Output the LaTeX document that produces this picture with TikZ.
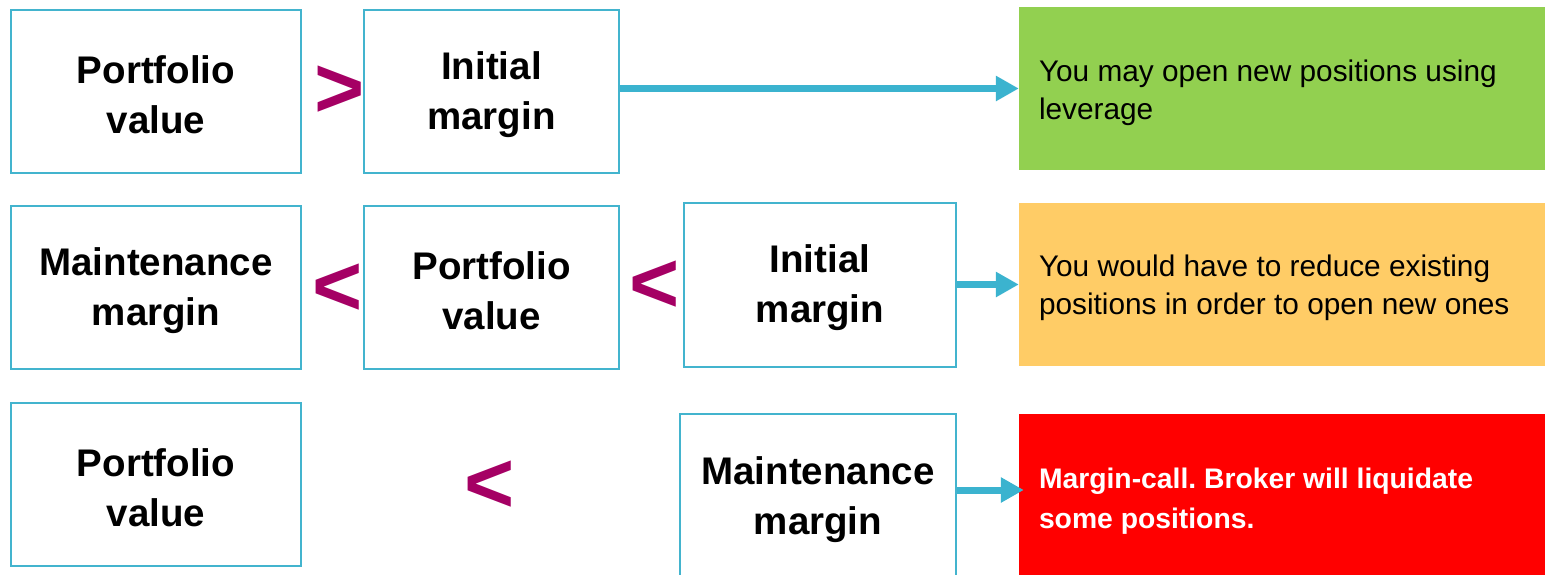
\documentclass[tikz,border=0pt]{standalone}
\usepackage{fontspec}
\setmainfont{Liberation Sans}
\usetikzlibrary{arrows.meta}
\frenchspacing
\definecolor{frame}{HTML}{43B4CE}
\definecolor{flow}{HTML}{3BB3CF}
\definecolor{relmark}{HTML}{A50064}
\definecolor{okfill}{HTML}{92D050}
\definecolor{warnfill}{HTML}{FFCC66}
\definecolor{callfill}{HTML}{FF0000}
\tikzset{
  valbox/.style={draw=frame, line width=2pt, fill=white, inner sep=0pt},
  valtext/.style={align=center, inner sep=0pt, yshift=-3pt,
    font=\bfseries\fontsize{38.5}{50}\selectfont},
  relsign/.style={text=relmark, inner sep=0pt, font=\bfseries\fontsize{86}{86}\selectfont},
  outbox/.style={inner sep=0pt, minimum width=528pt},
  outtext/.style={inner sep=0pt, align=left, anchor=west, xshift=20pt,
    font=\fontsize{29.8}{38}\selectfont},
  conn/.style={draw=flow, line width=7pt,
    -{Triangle[length=23pt,width=24pt]}},
}
\begin{document}
\begin{tikzpicture}[x=1pt,y=-1pt]
  \useasboundingbox (0,0) rectangle (1545,574);
  \clip (0,0) rectangle (1545,574);

  % row 1: portfolio above initial margin
  \node[valbox, minimum width=290pt, minimum height=163pt,
        label={[valtext]center:{Portfolio\\value}}] (pv1) at (156,91.5) {};
  \node[valbox, minimum width=255pt, minimum height=163pt,
        label={[valtext]center:{Initial\\margin}}] (im1) at (491.5,91.5) {};
  \node[relsign] (gt1) at (340,92) {>};
  \node[outbox, fill=okfill, minimum height=163pt] (ok) at (1283,88.5) {};
  \node[outtext, yshift=-4pt] (oktxt) at (ok.west) {You may open new positions using\\leverage};
  \draw[conn] (im1.east |- ok.west) -- (ok.west);

  % row 2: between maintenance and initial margin
  \node[valbox, minimum width=290pt, minimum height=163pt,
        label={[valtext]center:{Maintenance\\margin}}] (mm2) at (156,287.5) {};
  \node[valbox, minimum width=255pt, minimum height=163pt,
        label={[valtext]center:{Portfolio\\value}}] (pv2) at (491.5,287.5) {};
  \node[valbox, minimum width=272pt, minimum height=164pt,
        label={[valtext]center:{Initial\\margin}}] (im2) at (820,285) {};
  \node[relsign] (lt2a) at (338,290) {<};
  \node[relsign] (lt2b) at (655,287) {<};
  \node[outbox, fill=warnfill, minimum height=163pt] (warn) at (1283,284.5) {};
  \node[outtext, yshift=-3pt] (warntxt) at (warn.west)
        {You would have to reduce existing\\positions in order to open new ones};
  \draw[conn] (im2.east |- warn.west) -- (warn.west);

  % row 3: portfolio below maintenance margin
  \node[valbox, minimum width=290pt, minimum height=163pt,
        label={[valtext]center:{Portfolio\\value}}] (pv3) at (156,484.5) {};
  \node[relsign] (lt3) at (490,487) {<};
  \node[valbox, minimum width=276pt, minimum height=166pt,
        label={[valtext]center:{Maintenance\\margin}}] (mm3) at (818,497) {};
  \node[outbox, fill=callfill, minimum height=166pt] (call) at (1283,497) {};
  \node[outtext, text=white, yshift=-4pt, font=\bfseries\fontsize{28.3}{40}\selectfont] (calltxt)
        at (call.west) {Margin-call. Broker will liquidate\\some positions.};
  \coordinate (callin) at ([yshift=7pt]call.west);
  \draw[conn, shorten >=-5pt] (mm3.east |- callin) -- (callin);
\end{tikzpicture}
\end{document}
